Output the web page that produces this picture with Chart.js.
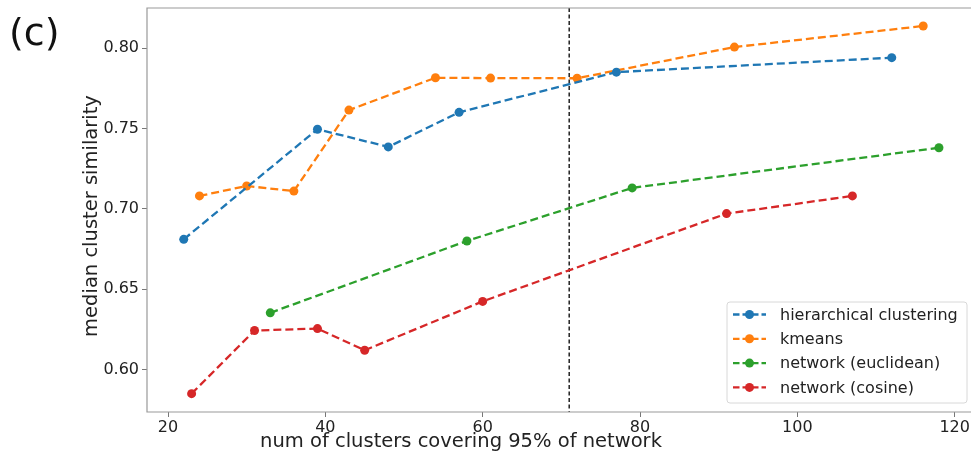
<!DOCTYPE html>
<html>
<head>
<meta charset="utf-8">
<script src="https://cdn.jsdelivr.net/npm/chart.js@4/dist/chart.umd.min.js"></script>
<style>
  html, body { margin: 0; padding: 0; background: #fff; }
  #wrap { width: 971px; height: 455px; position: relative; }
</style>
</head>
<body>
<div id="wrap"><canvas id="c"></canvas></div>
<script>
// values
var hierX = [22, 39, 48, 57, 77, 112];
var hierY = [0.681, 0.7495, 0.7385, 0.760, 0.785, 0.794];
var kmX = [24, 30, 36, 43, 54, 61, 72, 92, 116];
var kmY = [0.708, 0.7142, 0.711, 0.7614, 0.7815, 0.7813, 0.7812, 0.8006, 0.8137];
var eucX = [33, 58, 79, 118];
var eucY = [0.6353, 0.680, 0.713, 0.738];
var cosX = [23, 31, 39, 45, 60, 91, 107];
var cosY = [0.585, 0.6243, 0.6255, 0.612, 0.6424, 0.697, 0.708];
var names = ["hierarchical clustering", "kmeans", "network (euclidean)", "network (cosine)"];
var colors = ['#1f77b4', '#ff7f0e', '#2ca02c', '#d62728'];
var xTicks = [20, 40, 60, 80, 100, 120];
var yTicks = [0.60, 0.65, 0.70, 0.75, 0.80];
var cutoff = 71;
var xTitle = 'num of clusters covering 95% of network';
var yTitle = 'median cluster similarity';

function pts(xs, ys) {
  var out = [];
  for (let i = 0; i < xs.length; i++) out.push({x: xs[i], y: ys[i]});
  return out;
}

function ds(i, xs, ys) {
  return {
    label: names[i],
    data: pts(xs, ys),
    borderColor: colors[i],
    backgroundColor: colors[i],
    borderWidth: 2.3,
    borderDash: [8, 4],
    pointRadius: 4.5,
    pointBorderWidth: 0,
    pointHoverRadius: 4.5,
    fill: false,
    tension: 0
  };
}

var font = "'DejaVu Sans', sans-serif";

// frame, cut-off line, legend, axis titles and panel letter
var extras = {
  id: 'extras',
  beforeDatasetsDraw(chart) {
    var ctx = chart.ctx, a = chart.chartArea;
    var px = chart.scales.x.getPixelForValue(cutoff);
    ctx.save();
    ctx.strokeStyle = '#222';
    ctx.lineWidth = 1.5;
    ctx.setLineDash([4, 2.5]);
    ctx.beginPath();
    ctx.moveTo(px, a.top);
    ctx.lineTo(px, a.bottom);
    ctx.stroke();
    ctx.restore();
  },
  afterDraw(chart) {
    var ctx = chart.ctx, a = chart.chartArea;
    ctx.save();
    // the picture is cut on the right, so no right spine
    ctx.strokeStyle = '#999';
    ctx.lineWidth = 1.2;
    ctx.beginPath();
    ctx.moveTo(chart.width, a.top);
    ctx.lineTo(a.left, a.top);
    ctx.lineTo(a.left, a.bottom);
    ctx.lineTo(chart.width, a.bottom);
    ctx.stroke();

    // legend
    var bw = 240, bh = 101;
    var bx = 727, by = a.bottom - 9 - bh;
    ctx.fillStyle = 'rgba(255,255,255,0.85)';
    ctx.strokeStyle = '#d8d8d8';
    ctx.lineWidth = 1;
    ctx.beginPath();
    ctx.roundRect(bx, by, bw, bh, 3);
    ctx.fill();
    ctx.stroke();
    ctx.font = '16px ' + font;
    ctx.textBaseline = 'middle';
    for (let i = 0; i < names.length; i++) {
      var ly = by + 12.5 + i * 24.3;
      ctx.strokeStyle = colors[i];
      ctx.lineWidth = 2.3;
      ctx.setLineDash([6.5, 3]);
      ctx.beginPath();
      ctx.moveTo(bx + 6, ly);
      ctx.lineTo(bx + 39, ly);
      ctx.stroke();
      ctx.setLineDash([]);
      ctx.fillStyle = colors[i];
      ctx.beginPath();
      ctx.arc(bx + 22.5, ly, 4.5, 0, Math.PI * 2);
      ctx.fill();
      ctx.fillStyle = '#222';
      ctx.fillText(names[i], bx + 53, ly + 1);
    }

    // axis titles
    ctx.fillStyle = '#222';
    ctx.font = '19.5px ' + font;
    ctx.textAlign = 'center';
    ctx.fillText(xTitle, 461, 442);
    ctx.save();
    ctx.translate(92, 216);
    ctx.rotate(-Math.PI / 2);
    ctx.fillText(yTitle, 0, 0);
    ctx.restore();

    ctx.fillStyle = '#111';
    ctx.font = '38px ' + font;
    ctx.textAlign = 'left';
    ctx.textBaseline = 'alphabetic';
    ctx.fillText('(c)', 9, 45);
    ctx.restore();
  }
};

new Chart(document.getElementById('c'), {
  type: 'line',
  data: {
    datasets: [ds(0, hierX, hierY), ds(1, kmX, kmY), ds(2, eucX, eucY), ds(3, cosX, cosY)]
  },
  options: {
    responsive: true,
    maintainAspectRatio: false,
    animation: false,
    layout: { padding: { top: 8, right: 1, left: 0, bottom: 0 } },
    plugins: { legend: { display: false }, tooltip: { enabled: false } },
    scales: {
      x: {
        type: 'linear',
        min: 17.33,
        max: 121.27,
        afterBuildTicks: function (s) { s.ticks = xTicks.map(v => ({value: v})); },
        afterFit: function (s) { s.height = 43; },
        grid: { drawOnChartArea: false, tickLength: 5, color: '#777', tickWidth: 1 },
        border: { display: false },
        ticks: { color: '#222', font: { family: font, size: 16 }, padding: 1, maxRotation: 0 },
        title: { display: false }
      },
      y: {
        type: 'linear',
        min: 0.5736,
        max: 0.8249,
        afterBuildTicks: function (s) { s.ticks = yTicks.map(v => ({value: v})); },
        afterFit: function (s) { s.width = 147; s.paddingTop = 0; s.paddingBottom = 0; },
        grid: { drawOnChartArea: false, tickLength: 5, color: '#777', tickWidth: 1 },
        border: { display: false },
        ticks: { color: '#222', font: { family: font, size: 16 }, padding: 3,
                 callback: function (v) { return v.toFixed(2); } },
        title: { display: false }
      }
    }
  },
  plugins: [extras]
});
</script>
</body>
</html>
